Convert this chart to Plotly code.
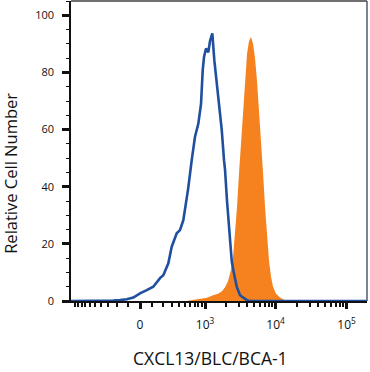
import numpy as np
import plotly.graph_objects as go

# ---- data (fluorescence intensity vs. relative cell number) ----
blue_intensity = [-1140, -700, -416, -244, -171, -109, -54, 0, 54, 109, 171, 204, 259, 300,
                  367, 416, 444, 471, 532, 558, 635, 664, 711, 796, 873, 924, 965, 1031,
                  1114, 1178, 1271, 1358, 1470, 1601, 1732, 1867, 1930, 2060, 2165, 2272,
                  2402, 2530, 2826, 3148, 3327, 3914, 4357, 10000, 50000, 193600]
blue_count = [0, 0, 0, 0.2, 0.3, 0.6, 1.2, 2.7, 3.8, 5, 8, 9, 13.2, 19,
              23.7, 24.8, 26.6, 28.3, 36, 39, 49.3, 53, 57.5, 62, 69, 80.8, 85.4, 88.4,
              87, 91, 93.7, 84.3, 77, 69, 60, 49.3, 46, 35, 28, 20,
              14, 10.8, 5, 2, 1.5, 0.3, 0, 0, 0, 0]

orange_intensity = [519, 641, 843, 1066, 1301, 1534, 1749, 1930, 2133, 2349, 2508, 2678,
                    2857, 3050, 3254, 3472, 3704, 3953, 4217, 4500, 4801, 5124, 5467, 5834,
                    6225, 6642, 7087, 7562, 8069, 8610, 9186, 10125, 11528, 13124, 14944]
orange_count = [0, 0.3, 0.8, 1.1, 2, 2.5, 3.4, 4.8, 7, 11, 15.5, 23,
                33, 45, 56, 68, 79, 86.5, 91, 92.4, 90, 85, 77, 67,
                56, 45, 33, 22, 14, 8.5, 5, 2.5, 1.2, 0.4, 0]

x_major_values = [0, 1e3, 1e4, 1e5]
x_major_labels = ["0", "10<sup>3</sup>", "10<sup>4</sup>", "10<sup>5</sup>"]
x_range_values = [-1140, 193600]
y_major_values = [0, 20, 40, 60, 80, 100]
x_title = "CXCL13/BLC/BCA-1"
y_title = "Relative Cell Number"

# ---- biexponential-like display transform ----
W = 123.0
def T(v):
    return np.arcsinh(np.asarray(v, dtype=float) / (2 * W)) / np.log(10)

minor_vals = ([-k * 100 for k in range(1, 11)] +
              [k * 100 for k in range(1, 10)] +
              [k * 1000 for k in range(2, 10)] +
              [k * 10000 for k in range(2, 10)] + [200000])

BLUE = "#1f4f9e"
ORANGE = "#f5821f"
FONT = "Open Sans"

fig = go.Figure()
fig.add_trace(go.Scatter(x=T(orange_intensity), y=orange_count, mode="lines",
                         line=dict(width=0, color=ORANGE), fill="tozeroy",
                         fillcolor=ORANGE, hoverinfo="skip", showlegend=False))
fig.add_trace(go.Scatter(x=T(blue_intensity), y=blue_count, mode="lines",
                         line=dict(width=2.6, color=BLUE), hoverinfo="skip",
                         showlegend=False))

fig.update_layout(
    width=370, height=372,
    margin=dict(l=71, r=3, t=1, b=71, autoexpand=False),
    paper_bgcolor="white", plot_bgcolor="white",
    font=dict(family=FONT, color="#111"),
    xaxis=dict(range=list(T(x_range_values)), showgrid=False, zeroline=False,
               showline=True, linecolor="#111", linewidth=1.5,
               tickmode="array", tickvals=list(T(x_major_values)), ticktext=x_major_labels,
               ticks="outside", ticklen=6, tickwidth=2.5, tickcolor="#111",
               tickfont=dict(size=12, family=FONT), ticklabelstandoff=6,
               minor=dict(tickmode="array", tickvals=list(T(minor_vals)), ticks="outside",
                          ticklen=4, tickwidth=1.5, tickcolor="#111", showgrid=False)),
    yaxis=dict(range=[0, 105], showgrid=False, zeroline=False,
               showline=True, linecolor="#111", linewidth=1.5,
               tickmode="array", tickvals=y_major_values,
               ticks="outside", ticklen=7, tickwidth=2.5, tickcolor="#111",
               tickfont=dict(size=11, family=FONT), ticklabelstandoff=6,
               minor=dict(dtick=5, ticks="outside", ticklen=3, tickwidth=1.2,
                          tickcolor="#111", showgrid=False)),
    shapes=[
        dict(type="line", xref="paper", yref="paper", x0=0, x1=1, y0=1, y1=1,
             line=dict(color="#707070", width=2)),
        dict(type="line", xref="paper", yref="paper", x0=1, x1=1, y0=0, y1=1,
             line=dict(color="#505a70", width=1.5)),
    ],
    annotations=[
        dict(text=x_title, xref="paper", yref="paper", x=0.47, y=-0.19,
             showarrow=False, xanchor="center", yanchor="middle",
             font=dict(size=17.5, family=FONT, color="#111")),
        dict(text=y_title, xref="paper", yref="paper", x=-0.203, y=0.427,
             showarrow=False, xanchor="center", yanchor="middle", textangle=-90,
             font=dict(size=16.5, family=FONT, color="#111")),
    ],
)

fig.write_html("out.html", config={"displayModeBar": False},
               post_script="document.body.style.margin='0';document.body.style.padding='0';")
